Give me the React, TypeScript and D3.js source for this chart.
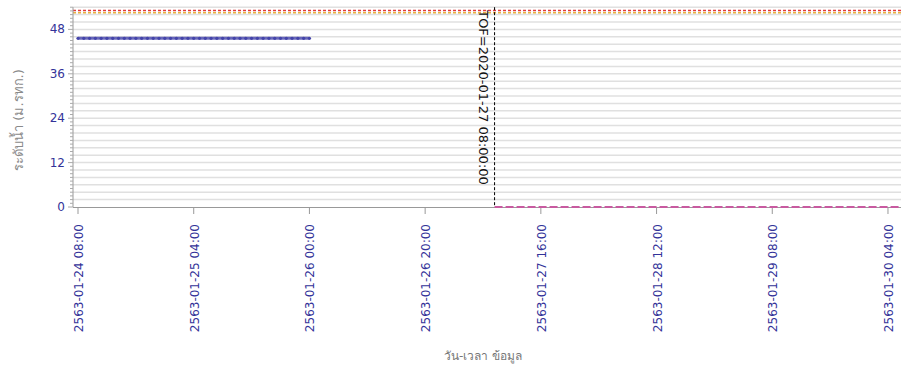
import React from "react";
import * as d3 from "d3";

// ---- data ----
const seriesStart = "2020-01-24T08:00:00";
// hourly water level (m) from 2020-01-24 08:00 to 2020-01-26 00:00
const waterLevel = [
  45.6, 45.6, 45.6, 45.6, 45.6, 45.6, 45.6, 45.6, 45.6, 45.6,
  45.6, 45.6, 45.6, 45.6, 45.6, 45.6, 45.6, 45.6, 45.6, 45.6,
  45.6, 45.6, 45.6, 45.6, 45.6, 45.6, 45.6, 45.6, 45.6, 45.6,
  45.6, 45.6, 45.6, 45.6, 45.6, 45.6, 45.6, 45.6, 45.6, 45.6, 45.6,
];
const redLevel = 53.1;
const yellowLevel = 52.5;
const tofTime = "2020-01-27T08:00:00";
const tofLabel = "TOF=2020-01-27 08:00:00";
const forecastStart = "2020-01-27T08:00:00";
const forecastEnd = "2020-01-30T06:15:00";
const forecastValue = 0;
const xTickTimes = [
  "2020-01-24T08:00:00",
  "2020-01-25T04:00:00",
  "2020-01-26T00:00:00",
  "2020-01-26T20:00:00",
  "2020-01-27T16:00:00",
  "2020-01-28T12:00:00",
  "2020-01-29T08:00:00",
  "2020-01-30T04:00:00",
];
const xTickLabels = [
  "2563-01-24 08:00",
  "2563-01-25 04:00",
  "2563-01-26 00:00",
  "2563-01-26 20:00",
  "2563-01-27 16:00",
  "2563-01-28 12:00",
  "2563-01-29 08:00",
  "2563-01-30 04:00",
];
const yTicks = [0, 12, 24, 36, 48];
const yTitle = "ระดับน้ำ (ม.รทก.)";
const xTitle = "วัน-เวลา ข้อมูล";

const W = 901;
const H = 374;
const L = 73;
const R = 901;
const T = 7.2;
const B = 207;

export default function App() {
  const x = d3
    .scaleTime()
    .domain([new Date("2020-01-24T07:08:00"), new Date("2020-01-30T06:15:00")])
    .range([L, R]);
  const y = d3.scaleLinear().domain([0, 54]).range([B, T]);

  const start = new Date(seriesStart).getTime();
  const pts = waterLevel.map((v, i) => ({ t: new Date(start + i * 3600000), v }));
  const line = d3
    .line<{ t: Date; v: number }>()
    .x((d) => x(d.t))
    .y((d) => y(d.v));

  const grid = d3.range(2, 55, 2);
  const minor = d3.range(0, 55, 1);
  const font = "'DejaVu Sans', Verdana, sans-serif";
  const blue = "#4444aa";

  return (
    <svg
      width={W}
      height={H}
      style={{ position: "absolute", left: 0, top: 0, background: "#fff" }}
      fontFamily={font}
    >
      {/* grid */}
      {grid.map((g) => (
        <line key={g} x1={L} x2={R} y1={y(g)} y2={y(g)} stroke="#e0e0e0" strokeWidth={1.5} />
      ))}
      {/* threshold lines */}
      <line x1={L} x2={R} y1={y(yellowLevel)} y2={y(yellowLevel)} stroke="#e8b040" strokeWidth={1.5} strokeDasharray="3,2" />
      <line x1={L} x2={R} y1={y(redLevel)} y2={y(redLevel)} stroke="#e03a3a" strokeWidth={1.5} strokeDasharray="3,2" />
      {/* axes */}
      <line x1={L} x2={L} y1={T} y2={B} stroke="#999" />
      <line x1={L} x2={R} y1={B + 0.5} y2={B + 0.5} stroke="#999" />
      {minor.map((m) => (
        <line key={m} x1={L - (m % 12 === 0 ? 5 : 3)} x2={L} y1={y(m)} y2={y(m)} stroke="#aaa" strokeWidth={1} />
      ))}
      {yTicks.map((t) => (
        <text key={t} x={65} y={y(t) + 4} textAnchor="end" fontSize={12} fill="#333399">
          {t}
        </text>
      ))}
      {xTickTimes.map((t, i) => {
        const px = x(new Date(t));
        return (
          <g key={t}>
            <line x1={px} x2={px} y1={B} y2={B + 7} stroke="#999" />
            <text
              transform={`translate(${px + 5},${B + 17}) rotate(-90)`}
              textAnchor="end"
              fontSize={12}
              fill="#333399"
            >
              {xTickLabels[i]}
            </text>
          </g>
        );
      })}
      {/* observed series */}
      <path d={line(pts) || ""} fill="none" stroke={blue} strokeWidth={3} opacity={0.8} />
      {pts.map((p, i) => (
        <circle key={i} cx={x(p.t)} cy={y(p.v)} r={1.6} fill={blue} />
      ))}
      {/* forecast line */}
      <line
        x1={x(new Date(forecastStart))}
        x2={x(new Date(forecastEnd))}
        y1={y(forecastValue)}
        y2={y(forecastValue)}
        stroke="#c85aa0"
        strokeWidth={2}
        strokeDasharray="8,3"
      />
      {/* TOF marker */}
      <line
        x1={x(new Date(tofTime))}
        x2={x(new Date(tofTime))}
        y1={T}
        y2={B}
        stroke="#000"
        strokeWidth={1}
        strokeDasharray="3,2"
      />
      <text
        transform={`translate(${x(new Date(tofTime)) - 16},${T + 3}) rotate(90)`}
        fontSize={13}
        fill="#111"
      >
        {tofLabel}
      </text>
      {/* titles */}
      <text
        transform={`translate(23,120) rotate(-90)`}
        textAnchor="middle"
        fontSize={13}
        fill="#8a8a8a"
      >
        {yTitle}
      </text>
      <text x={483} y={360} textAnchor="middle" fontSize={12} fill="#777">
        {xTitle}
      </text>
    </svg>
  );
}
